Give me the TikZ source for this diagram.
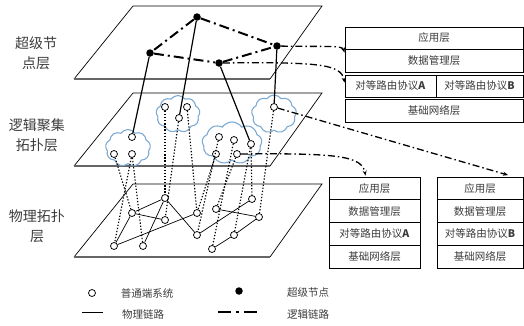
\documentclass[tikz,border=0pt]{standalone}
\usepackage{fontspec}
\setmainfont{Liberation Serif}
\newfontfamily\cjk{Noto Sans CJK SC}
\usetikzlibrary{shapes.symbols,arrows.meta,calc}
\definecolor{cloudblue}{RGB}{125,170,212}
\definecolor{labelgray}{RGB}{60,60,60}
\begin{document}
\begin{tikzpicture}[x=1pt,y=-1pt,
  planeedge/.style={line width=0.7pt},
  planebase/.style={line width=1.3pt,draw=black!60},
  en/.style={circle,draw,fill=white,inner sep=0pt,minimum size=7pt,line width=0.75pt},
  sn/.style={circle,fill=black,inner sep=0pt,minimum size=7.5pt},
  phys/.style={line width=0.7pt},
  vert/.style={line width=1.15pt,dash pattern=on 1.3pt off 1.8pt},
  uplink/.style={line width=1.2pt},
  logic/.style={line width=2pt,dash pattern=on 10pt off 4pt on 2pt off 4pt},
  ptr/.style={line width=1.3pt,dash pattern=on 7pt off 3pt on 1.5pt off 3pt,-{Stealth[length=5pt,width=4pt]}},
  cloudst/.style={cloud,cloud puffs=9,cloud puff arc=110,cloud ignores aspect,draw=cloudblue,line width=1.1pt,inner sep=0pt},
  layerbox/.style={draw,line width=0.9pt,inner sep=0pt,text=labelgray,font=\fontsize{10.5}{12}\selectfont\cjk},
  sidelabel/.style={align=center,text=labelgray,font=\fontsize{14}{20}\selectfont\cjk},
  legendtext/.style={font=\fontsize{10.5}{12}\selectfont\cjk,text=labelgray}
]
\useasboundingbox (0,0) rectangle (524,325);

% planes
\draw[planeedge] (74,79) -- (133,6) -- (322,6) -- (270,79);
\draw[planebase] (74,79) -- (270,79);
\draw[planeedge] (74,166) -- (133,93) -- (322,93) -- (270,166);
\draw[planebase] (74,166) -- (270,166);
\draw[planeedge] (74,257) -- (133,184) -- (322,184) -- (270,257);
\draw[planebase] (74,257) -- (270,257);

% side labels
\node[sidelabel] (lab1) at (36,53) {超级节\\点层};
\node[sidelabel] (lab2) at (37,135.5) {逻辑聚集\\拓扑层};
\node[sidelabel] (lab3) at (37,226) {物理拓扑\\层};

% clouds
\node[cloudst,minimum width=45pt,minimum height=37pt] (cl1) at (128,148) {};
\node[cloudst,minimum width=44pt,minimum height=37pt] (cl2) at (178,114) {};
\node[cloudst,minimum width=60pt,minimum height=42pt] (cl3) at (232,143) {};
\node[cloudst,minimum width=45pt,minimum height=38pt] (cl4) at (274,114) {};

% super nodes
\node[sn] (s1) at (197,17) {};
\node[sn] (s2) at (150,53) {};
\node[sn] (s3) at (219,63) {};
\node[sn] (s4) at (277,46) {};

% middle nodes
\node[en] (m1) at (132,137) {};
\node[en] (m2) at (114,154) {};
\node[en] (m3) at (132,154) {};
\node[en] (m4) at (165,107) {};
\node[en] (m5) at (187,107) {};
\node[en] (m6) at (179,118) {};
\node[en] (m7) at (219,137) {};
\node[en] (m8) at (234,140) {};
\node[en] (m9) at (251,144) {};
\node[en] (m10) at (216,154) {};
\node[en] (m11) at (237,154) {};
\node[en] (m12) at (274,107) {};

% physical nodes
\node[en] (p1) at (114,246) {};
\node[en] (p2) at (143,246) {};
\node[en] (p3) at (132,213) {};
\node[en] (p4) at (165,198) {};
\node[en] (p5) at (165,220) {};
\node[en] (p6) at (197,213) {};
\node[en] (p7) at (197,235) {};
\node[en] (p8) at (216,209) {};
\node[en] (p9) at (252,199) {};
\node[en] (p10) at (259,217) {};
\node[en] (p11) at (234,235) {};
\node[en] (p12) at (212,249) {};

% physical links
\foreach \a/\b in {p1/p3,p1/p6,p3/p4,p3/p5,p2/p4,p4/p7,p7/p9,p8/p10,p10/p11,p11/p12}
  \draw[phys] (\a) -- (\b);

% vertical mapping (dotted)
\foreach \a/\b in {m2/p3,m3/p1,m3/p2,m4/p4,m6/p5,m5/p6,m10/p6,m7/p7,m8/p12,m11/p8,m9/p11,m9/p9,m12/p10}
  \draw[vert] (\a) -- (\b);

% super node to member links
\foreach \a/\b in {s2/m1,s1/m6,s3/m9,s4/m12}
  \draw[uplink] (\a) -- (\b);

% logical links
\foreach \a/\b in {s1/s2,s1/s4,s2/s3,s3/s4}
  \draw[logic] (\a) -- (\b);

% top protocol stack
\node[layerbox,minimum width=178pt,minimum height=22pt] (t1) at (434,38) {应用层};
\node[layerbox,minimum width=178pt,minimum height=23pt] (t2) at (434,60.5) {数据管理层};
\node[layerbox,minimum width=91pt,minimum height=22pt] (t3a) at (390.5,86) {对等路由协议\textbf{A}};
\node[layerbox,minimum width=87pt,minimum height=22pt] (t3b) at (479.5,86) {对等路由协议\textbf{B}};
\node[layerbox,minimum width=178pt,minimum height=23pt] (t4) at (434,110.5) {基础网络层};

% middle protocol stack
\node[layerbox,minimum width=91pt,minimum height=22.75pt] (a1) at (374.5,188.4) {应用层};
\node[layerbox,minimum width=91pt,minimum height=22.75pt] (a2) at (374.5,211.1) {数据管理层};
\node[layerbox,minimum width=91pt,minimum height=22.75pt] (a3) at (374.5,233.9) {对等路由协议\textbf{A}};
\node[layerbox,minimum width=91pt,minimum height=22.75pt] (a4) at (374.5,256.6) {基础网络层};

% right protocol stack
\node[layerbox,minimum width=86pt,minimum height=22.75pt] (b1) at (480,188.4) {应用层};
\node[layerbox,minimum width=86pt,minimum height=22.75pt] (b2) at (480,211.1) {数据管理层};
\node[layerbox,minimum width=86pt,minimum height=22.75pt] (b3) at (480,233.9) {对等路由协议\textbf{B}};
\node[layerbox,minimum width=86pt,minimum height=22.75pt] (b4) at (480,256.6) {基础网络层};

% pointer arrows
\coordinate (tip1) at ($(t2.north west)+(0,4)$);
\coordinate (tip2) at ($(t3a.north west)+(0,8)$);
\coordinate (tip3) at ($(a1.north)+(-9,-1)$);
\coordinate (tip4) at ($(b1.north)+(28,-1.5)$);
\draw[ptr] (s4) .. controls (328,47) and (342,45) .. (tip1);
\draw[ptr] (s3) .. controls (318,62) and (341,64) .. (tip2);
\draw[ptr] (m11) .. controls (338,153) and (362,156) .. (tip3);
\draw[ptr] (m12) -- (tip4);

% legend
\node[en] (lg1) at (92,293) {};
\node[legendtext] (lt1) at (147,293) {普通端系统};
\node[sn] (lg2) at (239,291) {};
\node[legendtext] (lt2) at (308,293) {超级节点};
\coordinate (la) at (82,312);
\coordinate (lb) at (103,312);
\draw[phys] (la) -- (lb);
\node[legendtext] (lt3) at (143,314) {物理链路};
\coordinate (lc) at (218,312);
\coordinate (ld) at (257,312);
\draw[line width=2.4pt,dash pattern=on 13pt off 5pt on 2.5pt off 5pt] (lc) -- (ld);
\node[legendtext] (lt4) at (308,314) {逻辑链路};
\end{tikzpicture}
\end{document}
